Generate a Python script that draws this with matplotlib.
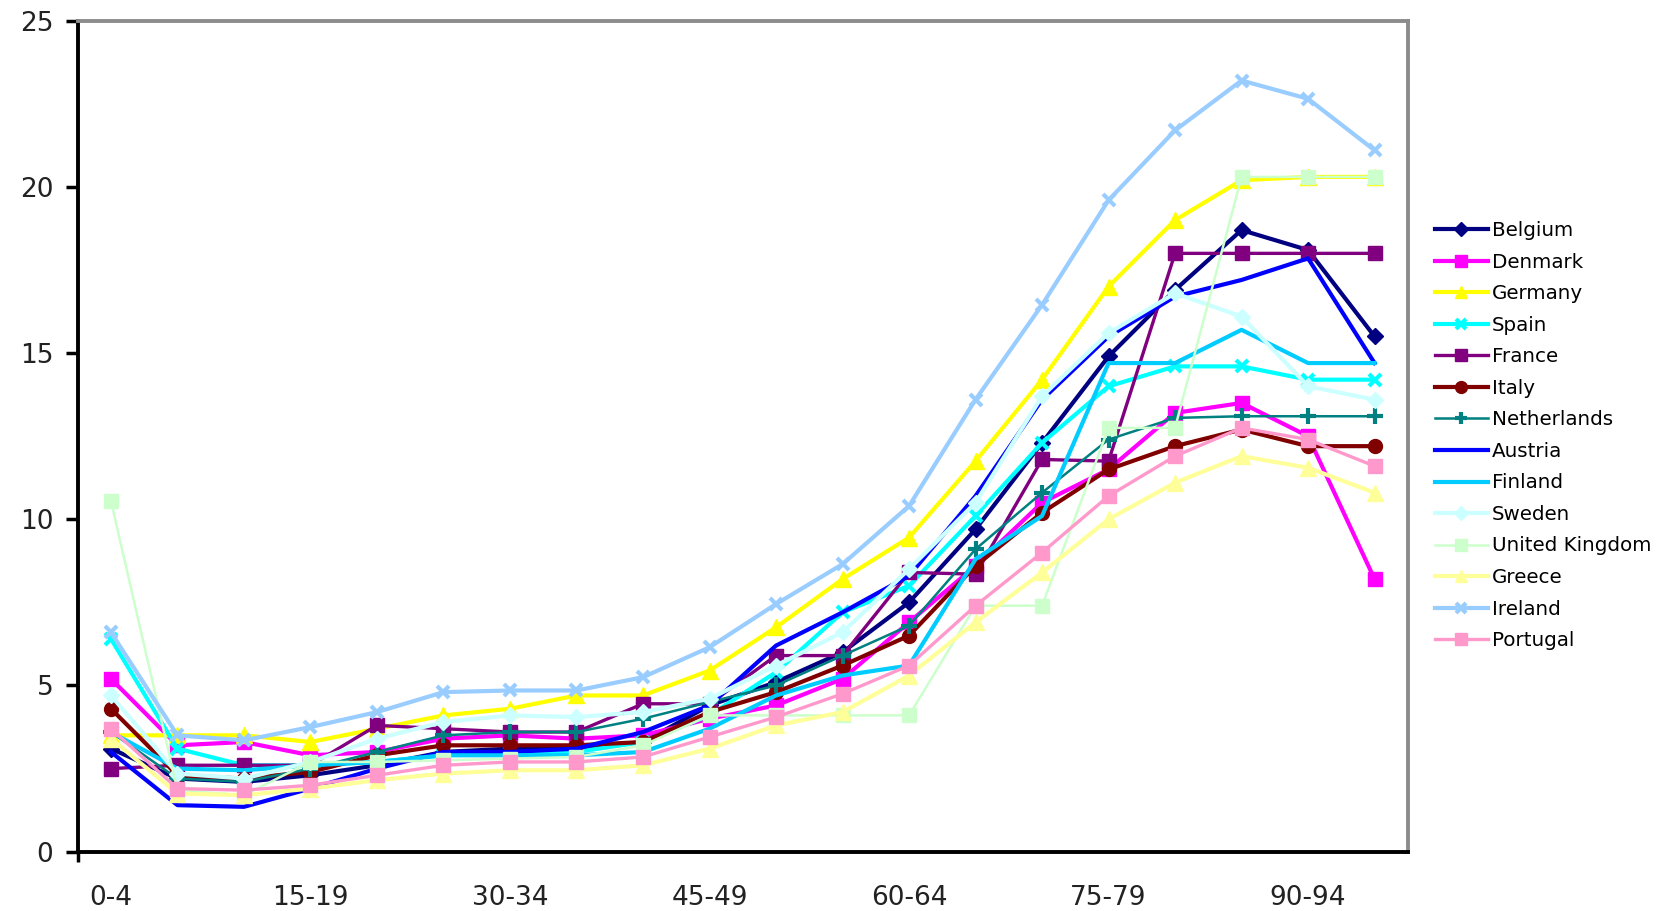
import matplotlib.pyplot as plt
import numpy as np

plt.rcParams['font.family'] = ['DejaVu Sans']

ages = ['0-4', '5-9', '10-14', '15-19', '20-24', '25-29', '30-34', '35-39',
        '40-44', '45-49', '50-54', '55-59', '60-64', '65-69', '70-74',
        '75-79', '80-84', '85-89', '90-94', '95-99']

belgium = [3.1, 2.2, 2.1, 2.3, 2.6, 3.0, 3.1, 3.1, 3.3, 4.4, 5.1, 6.0, 7.5, 9.7,
           12.3, 14.9, 16.9, 18.7, 18.1, 15.5]
denmark = [5.2, 3.2, 3.3, 2.9, 3.0, 3.4, 3.5, 3.4, 3.5, 4.0, 4.4, 5.2, 6.9, 8.6,
           10.5, 11.5, 13.2, 13.5, 12.5, 8.2]
germany = [3.5, 3.5, 3.5, 3.3, 3.7, 4.1, 4.3, 4.7, 4.7, 5.45, 6.75, 8.2, 9.45,
           11.75, 14.2, 17.0, 19.0, 20.2, 20.3, 20.3]
spain = [6.4, 3.1, 2.6, 2.6, 2.7, 2.9, 3.0, 3.0, 3.3, 4.1, 5.4, 7.2, 8.0, 10.1,
         12.3, 14.0, 14.6, 14.6, 14.2, 14.2]
france = [2.5, 2.6, 2.6, 2.6, 3.8, 3.7, 3.6, 3.6, 4.45, 4.45, 5.9, 5.9, 8.4,
          8.35, 11.8, 11.75, 18.0, 18.0, 18.0, 18.0]
italy = [4.3, 2.3, 2.2, 2.4, 2.9, 3.2, 3.2, 3.2, 3.3, 4.2, 4.8, 5.6, 6.5, 8.6,
         10.2, 11.5, 12.2, 12.7, 12.2, 12.2]
netherlands = [3.6, 2.2, 2.1, 2.5, 3.0, 3.5, 3.6, 3.6, 4.0, 4.5, 5.0, 5.9, 6.8,
               9.1, 10.8, 12.4, 13.05, 13.1, 13.1, 13.1]
austria = [3.0, 1.4, 1.35, 1.9, 2.5, 3.0, 3.0, 3.1, 3.6, 4.4, 6.2, 7.2, 8.3,
           10.7, 13.6, 15.5, 16.7, 17.2, 17.85, 14.7]
finland = [3.6, 2.5, 2.45, 2.6, 2.7, 2.9, 2.9, 2.9, 3.0, 3.7, 4.7, 5.3, 5.6, 8.8,
           10.1, 14.7, 14.7, 15.7, 14.7, 14.7]
sweden = [4.7, 2.35, 2.2, 2.7, 3.4, 3.9, 4.1, 4.05, 4.2, 4.6, 5.6, 6.6, 8.5,
          10.5, 13.7, 15.6, 16.8, 16.1, 14.0, 13.6]
uk = [10.55, 1.85, 1.7, 2.7, 2.7, 2.75, 2.8, 2.85, 3.2, 4.1, 4.1, 4.1, 4.1, 7.4,
      7.4, 12.75, 12.75, 20.3, 20.3, 20.3]
greece = [3.4, 1.75, 1.7, 1.9, 2.15, 2.35, 2.45, 2.45, 2.6, 3.1, 3.8, 4.2, 5.3,
          6.9, 8.4, 10.0, 11.1, 11.9, 11.55, 10.8]
ireland = [6.6, 3.5, 3.35, 3.75, 4.2, 4.8, 4.85, 4.85, 5.25, 6.15, 7.45, 8.65,
           10.4, 13.6, 16.45, 19.6, 21.7, 23.2, 22.65, 21.1]
portugal = [3.7, 1.9, 1.85, 2.0, 2.3, 2.6, 2.7, 2.7, 2.85, 3.45, 4.05, 4.75, 5.6,
            7.4, 9.0, 10.7, 11.9, 12.75, 12.4, 11.6]

# name, values, colour, marker, size, linewidth
series = [
    ('Belgium', belgium, '#000080', 'D', 8.5, 3.0),
    ('Denmark', denmark, '#FF00FF', 's', 10, 3.0),
    ('Germany', germany, '#FFFF00', '^', 11, 3.0),
    ('Spain', spain, '#00FFFF', 'x', 9, 3.0),
    ('France', france, '#800080', 's', 10, 2.4),
    ('Italy', italy, '#800000', 'o', 10, 3.0),
    ('Netherlands', netherlands, '#008080', '+', 11, 1.8),
    ('Austria', austria, '#0000FF', None, 0, 3.0),
    ('Finland', finland, '#00CCFF', None, 0, 3.0),
    ('Sweden', sweden, '#CCFFFF', 'D', 8.5, 3.0),
    ('United Kingdom', uk, '#CCFFCC', 's', 10, 1.8),
    ('Greece', greece, '#FFFF99', '^', 11, 3.0),
    ('Ireland', ireland, '#99CCFF', 'x', 9, 3.0),
    ('Portugal', portugal, '#FF99CC', 's', 10, 2.4),
]

fig = plt.figure(figsize=(16.71, 9.11), dpi=100)
ax = fig.add_axes([0.0465, 0.0651, 0.796, 0.9122])

x = np.arange(len(ages))
for name, vals, col, mk, ms, lw in series:
    ax.plot(x, vals, color=col, lw=lw, marker=mk, ms=ms,
            mew=3 if mk in ('x', '+') else 1, label=name)

ax.set_xlim(-0.5, len(ages) - 0.5)
ax.set_ylim(0, 25)
ax.set_yticks([0, 5, 10, 15, 20, 25])
ax.set_xticks(x[::3])
ax.set_xticklabels(ages[::3])
ax.set_xticks([-0.5], minor=True)
ax.tick_params(axis='x', which='major', length=0, pad=24, labelsize=19, colors='#222222')
ax.tick_params(axis='x', which='minor', length=7, width=2.5, direction='out')
ax.tick_params(axis='y', length=8.5, width=2.5, pad=9, labelsize=19, colors='#222222')
ax.tick_params(axis='y', color='black')

for s in ('left', 'bottom'):
    ax.spines[s].set_linewidth(2.8)
    ax.spines[s].set_color('black')
for s in ('top', 'right'):
    ax.spines[s].set_linewidth(2.8)
    ax.spines[s].set_color('#8c8c8c')

fig.legend(loc='upper left', bbox_to_anchor=(0.8588, 0.757), frameon=False,
           fontsize=14.3, borderpad=0, borderaxespad=0, handlelength=2.65,
           handletextpad=0.2, labelspacing=0.63, markerscale=0.85)

fig.savefig('out.png', dpi=100)
